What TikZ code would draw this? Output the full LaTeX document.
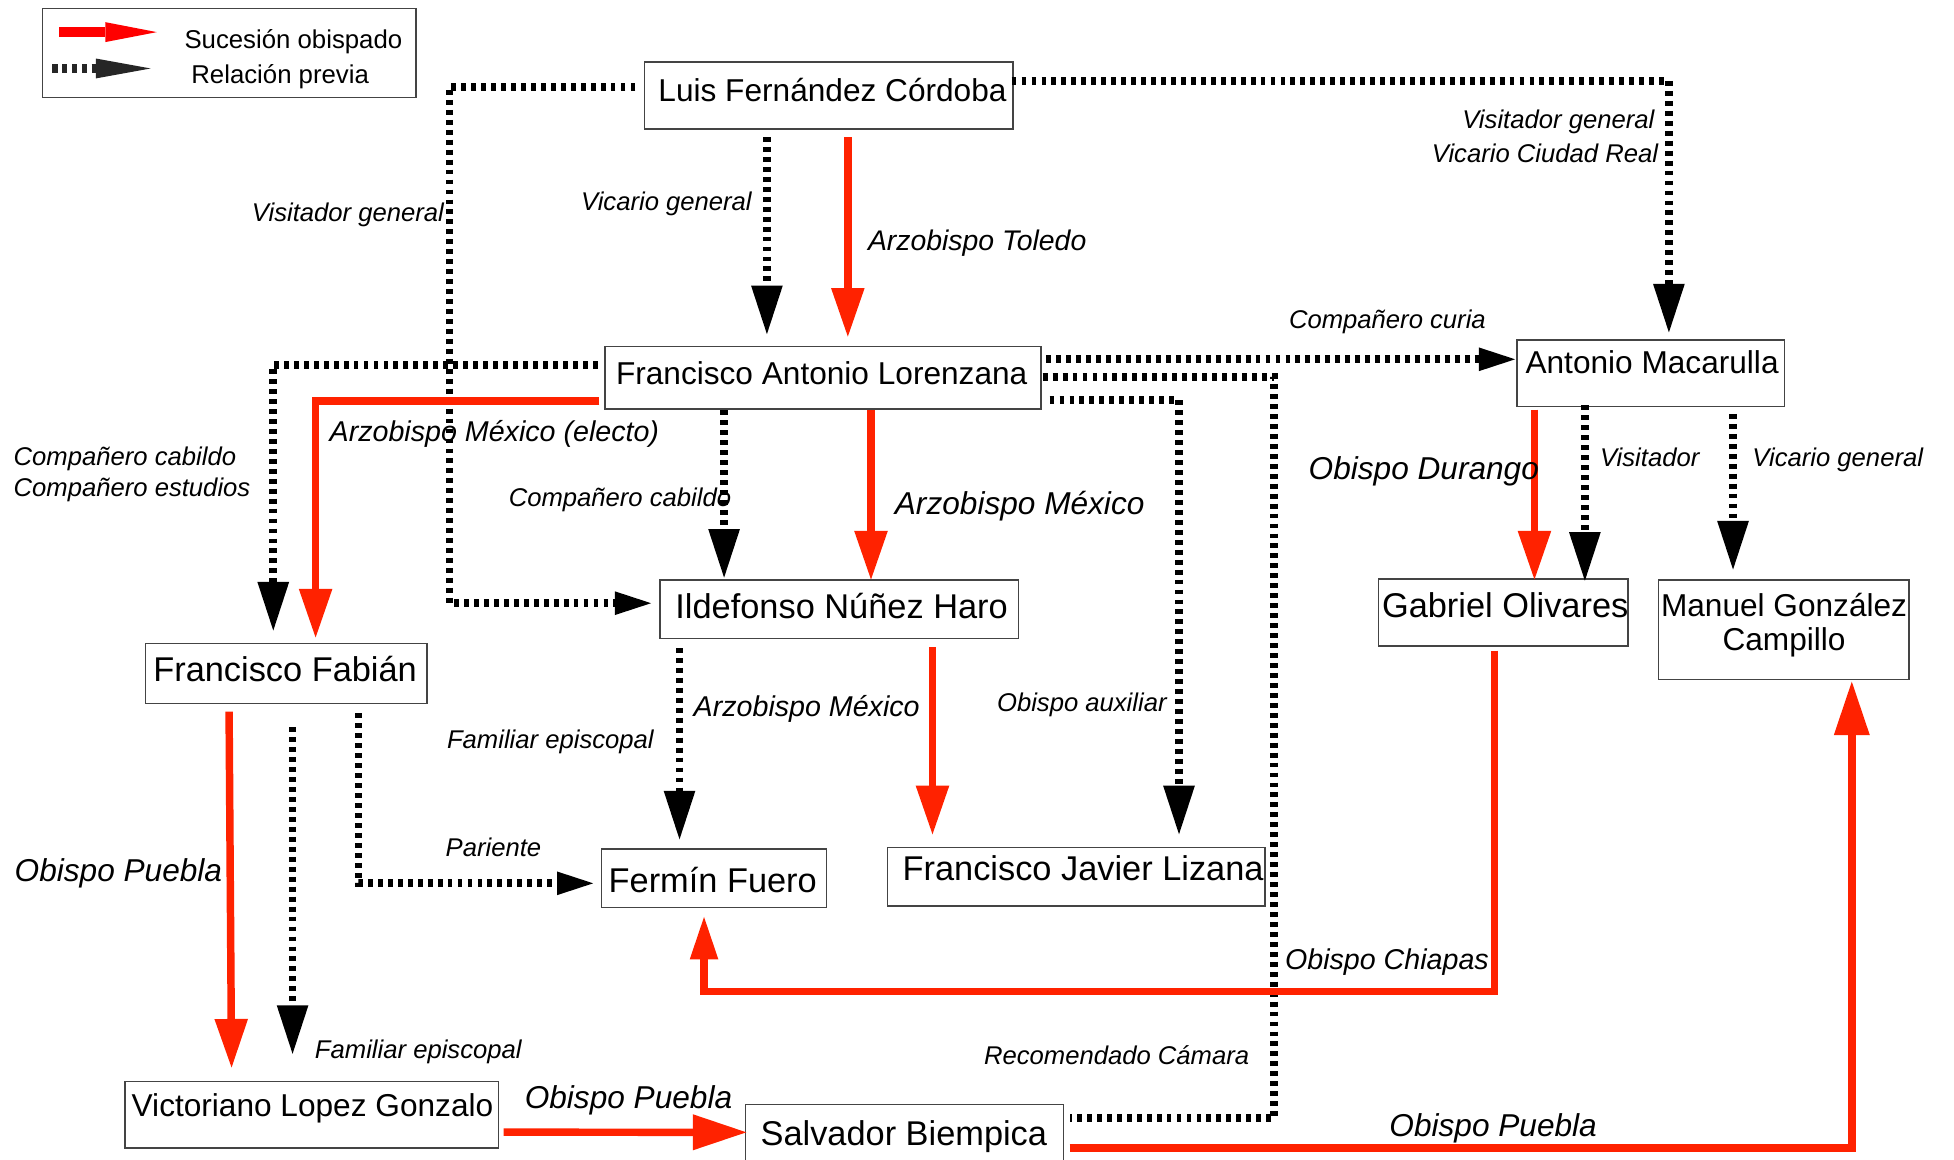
\documentclass[tikz,border=0pt]{standalone}
\usepackage{fontspec}
\setmainfont{Liberation Sans}
\usetikzlibrary{arrows.meta,calc}
\definecolor{sred}{HTML}{FF2200}
\definecolor{boxline}{HTML}{444444}
\begin{document}
\begin{tikzpicture}[x=1pt,y=-1pt,
  box/.style={draw=boxline,line width=1.1pt,inner sep=0pt,rectangle},
  ntext/.style={font=\fontsize{25.4}{30}\selectfont,inner sep=0pt,anchor=base},
  ntextb/.style={font=\fontsize{27.6}{32}\selectfont,inner sep=0pt,anchor=base},
  lab/.style={font=\fontsize{20.6}{24}\selectfont\itshape,inner sep=0pt},
  labt/.style={font=\fontsize{22.8}{26}\selectfont\itshape,inner sep=0pt},
  labm/.style={font=\fontsize{23}{27}\selectfont\itshape,inner sep=0pt},
  labl/.style={font=\fontsize{25.4}{30}\selectfont\itshape,inner sep=0pt},
  legtext/.style={font=\fontsize{20.7}{24}\selectfont,inner sep=0pt},
  succ/.style={draw=sred,line width=6pt,-{Triangle[length=39pt,width=27pt,line width=0pt]}},
  succup/.style={draw=sred,line width=6pt,-{Triangle[length=34pt,width=23pt,line width=0pt]}},
  succh/.style={draw=sred,line width=6pt,-{Triangle[length=43pt,width=29pt,line width=0pt]}},
  relplain/.style={draw=black,line width=6.3pt,dash pattern=on 3.9pt off 4.1pt},
  rel/.style={relplain,-{Triangle[length=39pt,width=25.5pt,line width=0pt]}},
  relh/.style={relplain,-{Triangle[length=29pt,width=19pt,line width=0pt]}},
]
\fill[white] (0,0) rectangle (1569.5,931);
\useasboundingbox (0,0) rectangle (1569.5,931);

% legend
\node[box,minimum width=300pt,minimum height=71.8pt] (leg) at (184,42.6) {};
\coordinate (legr1) at (47.7,25.8);
\coordinate (legr2) at (126,25.8);
\coordinate (legd1) at (42,55);
\coordinate (legd2) at (121,55);
\draw[draw=red,line width=7.5pt,-{Triangle[length=41.4pt,width=16pt,line width=0pt]}] (legr1) -- (legr2);
\draw[draw=black!85,line width=6.7pt,dash pattern=on 4.3pt off 3.6pt,-{Triangle[length=44pt,width=16pt,line width=0pt]}] (legd1) -- (legd2);
\node[legtext,anchor=base west] (legt1) at (148,38.8) {Sucesión obispado};
\node[legtext,anchor=base west] (legt2) at (153.5,67) {Relación previa};

% boxes
\node[box,minimum width=296pt,minimum height=53.8pt] (luis) at (665.7,76.7) {};
\node[ntext] (luisT) at (668.7,81.7) {Luis Fernández Córdoba};
\node[box,minimum width=350pt,minimum height=50pt] (lor) at (661,303.5) {};
\node[ntext] (lorT) at (660,309) {Francisco Antonio Lorenzana};
\node[box,minimum width=215pt,minimum height=53.7pt] (mac) at (1326,299.8) {};
\node[ntext] (macT) at (1327,300.4) {Antonio Macarulla};
\node[box,minimum width=288pt,minimum height=47pt] (ild) at (674,489.5) {};
\node[ntextb] (ildT) at (676,496.5) {Ildefonso Núñez Haro};
\node[box,minimum width=226pt,minimum height=48pt] (fab) at (230,541) {};
\node[ntextb] (fabT) at (229,547.5) {Francisco Fabián};
\node[box,minimum width=200.6pt,minimum height=54pt] (gab) at (1207.3,492) {};
\node[ntextb] (gabT) at (1209,495.7) {Gabriel Olivares};
\node[box,minimum width=201.5pt,minimum height=80pt] (man) at (1432.7,506) {};
\node[ntext] (manT1) at (1433,495.3) {Manuel González};
\node[ntext] (manT2) at (1433,522.5) {Campillo};
\node[box,minimum width=181pt,minimum height=47pt] (fer) at (573.5,705.5) {};
\node[ntextb] (ferT) at (572.5,717) {Fermín Fuero};
\node[box,minimum width=303pt,minimum height=46.7pt] (liz) at (864.5,704.3) {};
\node[ntextb] (lizT) at (870,707.6) {Francisco Javier Lizana};
\node[box,minimum width=300pt,minimum height=53.2pt] (vic) at (250.5,895.4) {};
\node[ntext] (vicT) at (251,897) {Victoriano Lopez Gonzalo};
\node[box,minimum width=255pt,minimum height=53pt] (sal) at (726.5,913.5) {};
\node[ntextb] (salT) at (726,920) {Salvador Biempica};

% connectors
\draw[rel] ($(luis.south)+(-49.7,5.9)$) -- ($(lor.north)+(-45,-9.6)$);
\draw[succ] ($(luis.south)+(15.3,5.9)$) -- ($(lor.north)+(20,-7.6)$);
\draw[rel] ($(luis.east)+(-1.7,-11.7)$) -| ($(mac.north)+(14.5,-5.4)$);
\draw[relh] ($(luis.west)+(-6.8,-7.1)$) -| (361,300) |- ($(ild.west)+(-6.5,-5)$);
\draw[rel] ($(lor.west)+(-5.5,-10.5)$) -| ($(fab.north)+(-10.5,-10)$);
\draw[succ] ($(lor.west)+(-4,18.5)$) -| ($(fab.north)+(23.5,-4.4)$);
\draw[rel] ($(lor.south)+(-79.4,0.5)$) -- ($(ild.north)+(-92.4,-1.5)$);
\draw[succ] ($(lor.south)+(38.6,0.5)$) -- ($(ild.north)+(25.6,0)$);
\draw[relh] ($(lor.east)+(4,-14.9)$) -- ($(mac.west)+(-1,-11.2)$);
\draw[rel] ($(lor.east)+(6.5,18)$) -| ($(liz.north)+(82.5,-10.3)$);
\draw[relplain] ($(lor.east)+(1,-1)$) -| (1023.5,600) |- ($(sal.east)+(4.5,-15.5)$);
\draw[succ] ($(mac.south)+(-93.5,1.8)$) -- ($(gab.north)+(25.2,1)$);
\draw[rel] ($(mac.south)+(-53,-1.7)$) -- ($(gab.north)+(65.7,2)$);
\draw[rel] ($(mac.south)+(66,5.3)$) -- ($(man.north)+(-40.7,-8)$);
\draw[rel] ($(ild.south)+(-128.2,7)$) -- ($(fer.north)+(-27.7,-7.3)$);
\draw[succ] ($(ild.south)+(75,6.4)$) -- ($(liz.north)+(-115.5,-10.3)$);
\draw[succ] ($(fab.south)+(-46,6)$) -- ($(vic.north)+(-64.5,-10.8)$);
\draw[rel] ($(fab.south)+(5,18.7)$) -- ($(vic.north)+(-15.5,-21.8)$);
\draw[relh] ($(fab.south)+(58,7.5)$) |- ($(fer.west)+(-6,4)$);
\draw[succup] ($(gab.south)+(-6.8,3)$) |- ($(fer.south)+(-8,67)$) -- ($(fer.south)+(-8,7)$);
\draw[succh] ($(vic.east)+(3.5,14)$) -- ($(sal.west)+(1,-4)$);
\draw[succh] ($(sal.east)+(4.5,8.5)$) -| ($(man.south)+(54.7,1)$);

% labels
\node[lab,anchor=base east] (l1) at (604,169) {Vicario general};
\node[labt,anchor=base west] (l2) at (697,201) {Arzobispo Toledo};
\node[lab,anchor=base east] (l3) at (1329,103) {Visitador general};
\node[lab,anchor=base east] (l4) at (1332,130.7) {Vicario Ciudad Real};
\node[lab,anchor=base] (l5) at (1114.4,263.6) {Compañero curia};
\node[lab,anchor=base east] (l6) at (356.8,178) {Visitador general};
\node[lab,anchor=base west] (l7) at (10.8,373.5) {Compañero cabildo};
\node[lab,anchor=base west] (l8) at (10.8,399) {Compañero estudios};
\node[labm,anchor=base west] (l9) at (264.6,354.8) {Arzobispo México (electo)};
\node[lab,anchor=base east] (l10) at (587.5,407) {Compañero cabildo};
\node[labl,anchor=base west] (l11) at (718.6,413.6) {Arzobispo México};
\node[labm,anchor=base west] (l12) at (557,575.6) {Arzobispo México};
\node[lab,anchor=base east] (l13) at (937.3,571.6) {Obispo auxiliar};
\node[lab,anchor=base east] (l14) at (525.3,600.9) {Familiar episcopal};
\node[labl,anchor=base east] (l15) at (1236.3,385.5) {Obispo Durango};
\node[lab,anchor=base west] (l16) at (1285,374.8) {Visitador};
\node[lab,anchor=base west] (l17) at (1407.4,374.8) {Vicario general};
\node[labl,anchor=base east] (l18) at (178.6,708) {Obispo Puebla};
\node[lab,anchor=base west] (l19) at (357.8,688) {Pariente};
\node[lab,anchor=base west] (l20) at (252.8,850) {Familiar episcopal};
\node[labl,anchor=base west] (l21) at (421.3,890.2) {Obispo Puebla};
\node[lab,anchor=base east] (l22) at (1003.6,855.4) {Recomendado Cámara};
\node[labm,anchor=base west] (l23) at (1032,779) {Obispo Chiapas};
\node[labl,anchor=base west] (l24) at (1115.8,913) {Obispo Puebla};
\end{tikzpicture}
\end{document}
